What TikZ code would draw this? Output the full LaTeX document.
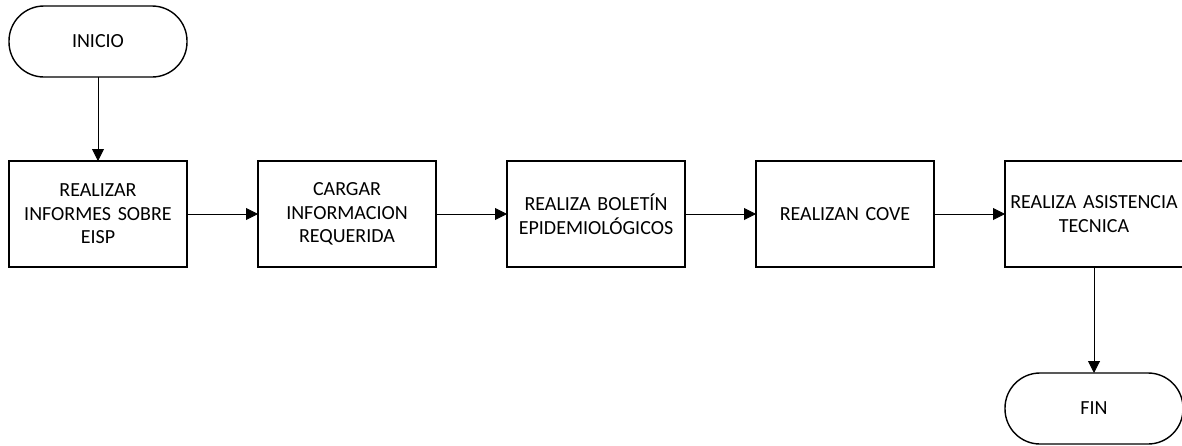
\documentclass[tikz,border=0pt]{standalone}
\usepackage{fontspec}
\setmainfont{Carlito}
\usetikzlibrary{positioning,arrows.meta}

\begin{document}
\begin{tikzpicture}[x=1pt,y=-1pt,
    font=\fontsize{20}{23.5}\selectfont,
    node distance=71pt,
    proceso/.style={draw,line width=1.4pt,minimum width=178pt,minimum height=106pt,
      text width=172pt,align=center,inner sep=0pt,outer sep=0pt},
    terminal/.style={draw,line width=1.4pt,rounded corners=35pt,minimum width=178pt,
      minimum height=71pt,inner sep=0pt,outer sep=0pt},
    flecha/.style={-{Triangle[length=12pt,width=12pt]},line width=0.9pt}]

  \useasboundingbox (0,0) rectangle (1182,445);

  % Start terminal
  \node [terminal] (inicio) at (98,41.5) {INICIO};

  % Process boxes in one row
  \node [proceso] (informes) at (98,214) {REALIZAR\\INFORMES SOBRE\\EISP};
  \node [proceso, right=of informes] (cargar) {CARGAR\\INFORMACION\\REQUERIDA};
  \node [proceso, right=of cargar] (boletin) {REALIZA BOLETÍN\\EPIDEMIOLÓGICOS};
  \node [proceso, right=of boletin] (cove) {REALIZAN COVE};
  \node [proceso, right=of cove] (asistencia) {REALIZA ASISTENCIA\\TECNICA};

  % End terminal
  \node [terminal, below=106pt of asistencia] (fin) {FIN};

  % Connectors
  \draw [flecha] (inicio) -- (informes);
  \draw [flecha] (informes) -- (cargar);
  \draw [flecha] (cargar) -- (boletin);
  \draw [flecha] (boletin) -- (cove);
  \draw [flecha] (cove) -- (asistencia);
  \draw [flecha] (asistencia) -- (fin);
\end{tikzpicture}
\end{document}
